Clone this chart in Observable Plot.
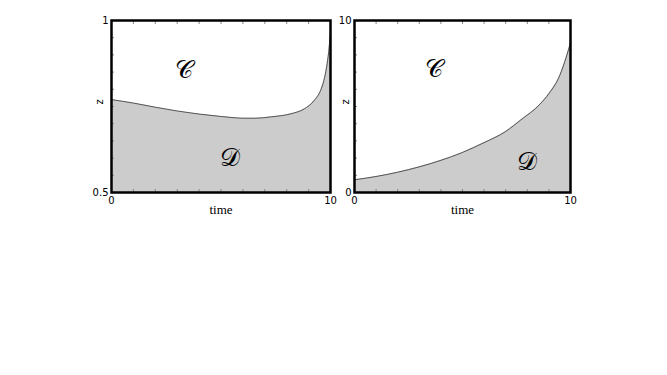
<!DOCTYPE html>
<html><head><meta charset="utf-8">
<script src="https://cdn.jsdelivr.net/npm/d3@7"></script>
<script src="https://cdn.jsdelivr.net/npm/@observablehq/plot@0.6"></script>
<style>
body{margin:0;background:#fff;width:667px;height:375px;overflow:hidden}
#wrap{position:relative;width:667px;height:375px}
#wrap svg{position:absolute;top:0}
</style></head><body><div id="wrap"></div>
<script>
const timeL = [0, 1, 2, 3, 4, 5, 5.5, 6, 6.6, 7.3, 8.2, 8.8, 9.25, 9.55, 9.7, 9.82, 9.92, 10];
const zL    = [0.770, 0.760, 0.748, 0.737, 0.728, 0.721, 0.718, 0.716, 0.716, 0.720, 0.729, 0.743, 0.767, 0.797, 0.826, 0.864, 0.910, 0.965];
const timeR = [0, 1, 2, 3, 4, 5, 6, 7, 7.7, 8.6, 9, 9.5, 9.8, 10];
const zR    = [0.74, 0.93, 1.18, 1.49, 1.87, 2.33, 2.90, 3.55, 4.22, 5.15, 5.75, 6.80, 7.86, 8.70];
const regionNames = ["𝒞", "𝒟"];
const labelPosL = [[3.3, 0.855], [5.4, 0.60]];
const labelPosR = [[3.7, 7.2], [8.0, 1.75]];

function panel(times, zs, ydom, ylabels, labelPos, opts) {
  const data = times.map((t, i) => ({t, z: zs[i]}));
  const labs = regionNames.map((n, i) => ({n, t: labelPos[i][0], z: labelPos[i][1]}));
  const svg = Plot.plot({
    width: opts.width, height: 230,
    marginLeft: opts.ml, marginRight: opts.mr, marginTop: 20, marginBottom: 38,
    style: {background: "transparent", fontFamily: "DejaVu Sans, sans-serif", fontSize: "10px", color: "#000"},
    x: {domain: [0, 10]},
    y: {domain: ydom},
    marks: [
      Plot.areaY(data, {x: "t", y1: ydom[0], y2: "z", fill: "#cccccc", curve: "monotone-x"}),
      Plot.line(data, {x: "t", y: "z", stroke: "#333", strokeWidth: 0.8, curve: "monotone-x"}),
      Plot.axisX({ticks: d3.range(1, 10), tickSize: -3, text: null, label: null, stroke: "#888"}),
      Plot.axisX({anchor: "top", ticks: d3.range(1, 10), tickSize: -3, text: null, label: null, stroke: "#888"}),
      Plot.axisY({ticks: d3.range(ydom[0], ydom[1], (ydom[1]-ydom[0])/10).slice(1), tickSize: -3, text: null, label: null, stroke: "#888"}),
      Plot.axisX({ticks: [0, 10], tickSize: 0, tickPadding: 4, label: null, tickFormat: d => String(d)}),
      Plot.axisY({ticks: ydom, tickSize: 0, tickPadding: 3, label: null, tickFormat: d => ylabels[ydom.indexOf(d)]}),
      Plot.frame({stroke: "#000", strokeWidth: 2.5}),
      Plot.text(labs, {x: "t", y: "z", text: "n", fontSize: 25, fontFamily: "DejaVu Serif, serif", fill: "#000"}),
      Plot.text(["time"], {frameAnchor: "bottom", dy: 21, fontSize: 13, fontFamily: "Liberation Serif, serif", fill: "#000"}),
      Plot.text(["z"], {frameAnchor: "left", dx: opts.zdx, dy: -2, rotate: -90, fontSize: 10, fontFamily: "DejaVu Sans, sans-serif", fill: "#000"})
    ]
  });
  svg.style.left = opts.left + "px";
  return svg;
}
const wrap = document.getElementById("wrap");
wrap.appendChild(panel(timeL, zL, [0.5, 1], ["0.5", "1"], labelPosL, {width: 340, ml: 111, mr: 10, left: 0, zdx: -12}));
wrap.appendChild(panel(timeR, zR, [0, 10], ["0", "10"], labelPosR, {width: 250, ml: 20, mr: 14, left: 334, zdx: -9}));
</script></body></html>
